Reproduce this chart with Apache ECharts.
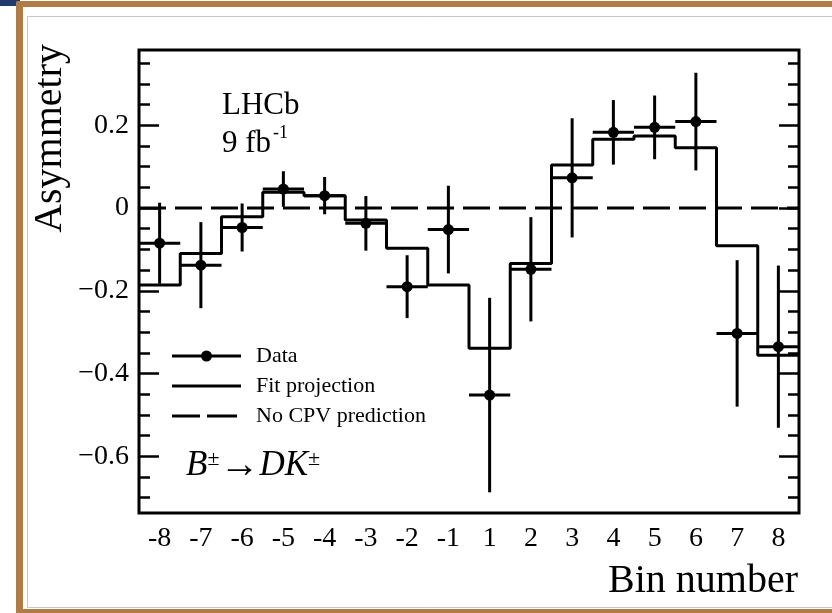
<!DOCTYPE html>
<html>
<head>
<meta charset="utf-8">
<script src="https://cdn.jsdelivr.net/npm/echarts@6/dist/echarts.min.js"></script>
<style>
html, body { margin: 0; padding: 0; background: #fff; }
#chart { width: 832px; height: 613px; }
</style>
</head>
<body>
<div id="chart"></div>
<script>
// bins, asymmetry values
var binLabels = ['-8', '-7', '-6', '-5', '-4', '-3', '-2', '-1', '1', '2', '3', '4', '5', '6', '7', '8'];
var asymmetry = [-0.085, -0.138, -0.047, 0.046, 0.030, -0.037, -0.190, -0.052,
                 -0.452, -0.148, 0.073, 0.183, 0.195, 0.209, -0.303, -0.335];
var asymErr = [0.098, 0.104, 0.058, 0.043, 0.045, 0.066, 0.076, 0.106,
               0.235, 0.126, 0.144, 0.078, 0.077, 0.118, 0.177, 0.196];
var fitProjection = [-0.186, -0.110, -0.021, 0.038, 0.030, -0.029, -0.097, -0.186,
                     -0.339, -0.134, 0.104, 0.166, 0.174, 0.146, -0.091, -0.356];
var noCpvValue = 0;
var yMajorTicks = [-0.6, -0.4, -0.2, 0, 0.2];
var yMinorTicks = [-0.7, -0.65, -0.6, -0.55, -0.5, -0.45, -0.4, -0.35, -0.3, -0.25, -0.2, -0.15,
                   -0.1, -0.05, 0, 0.05, 0.1, 0.15, 0.2, 0.25, 0.3, 0.35];
var yMin = -0.737, yMax = 0.382;

var SERIF = '"Liberation Serif", "Times New Roman", serif';

var chart = echarts.init(document.getElementById('chart'));

// step histogram points for the fit
var fitSteps = [];
fitProjection.forEach(function (v, i) {
    fitSteps.push([i, v], [i + 1, v]);
});

var dataPoints = asymmetry.map(function (v, i) {
    return [i + 0.5, v, asymErr[i]];
});

function renderData(params, api) {
    var x = api.value(0), y = api.value(1), e = api.value(2);
    var c = api.coord([x, y]);
    var top = api.coord([x, y + e]);
    var bot = api.coord([x, y - e]);
    var l = api.coord([x - 0.5, y]);
    var r = api.coord([x + 0.5, y]);
    var st = { stroke: '#000', lineWidth: 3 };
    return {
        type: 'group',
        children: [
            { type: 'line', shape: { x1: c[0], y1: top[1], x2: c[0], y2: bot[1] }, style: st },
            { type: 'line', shape: { x1: l[0], y1: c[1], x2: r[0], y2: c[1] }, style: st },
            { type: 'circle', shape: { cx: c[0], cy: c[1], r: 5.5 }, style: { fill: '#000' } }
        ]
    };
}

function yLabel(v) {
    return v < 0 ? '\u2212' + Math.abs(v) : String(v);
}

function catAxis(pos, labels) {
    return {
        type: 'category',
        data: binLabels,
        position: pos,
        axisLine: { show: false },
        axisTick: { inside: true, length: 14, interval: 0, lineStyle: { color: '#000', width: 2.5 } },
        axisLabel: { show: labels, interval: 0, margin: 12, color: '#000', fontFamily: SERIF, fontSize: 28 },
        splitLine: { show: false }
    };
}

function valAxis(pos, ticks, len, labels) {
    return {
        type: 'value',
        position: pos,
        min: yMin,
        max: yMax,
        axisLine: { show: false },
        splitLine: { show: false },
        axisTick: { inside: true, length: len, customValues: ticks, lineStyle: { color: '#000', width: 2.5 } },
        axisLabel: {
            show: labels, customValues: ticks, margin: 10, formatter: yLabel,
            color: '#000', fontFamily: SERIF, fontSize: 28
        }
    };
}

var legendText = { color: '#000', fontFamily: SERIF, fontSize: 22, lineHeight: 24, padding: [0, 0, 0, 10] };

var option = {
    animation: false,
    backgroundColor: '#fff',
    grid: { left: 139, top: 50, width: 660, height: 463, show: true, borderColor: '#000', borderWidth: 3 },
    xAxis: [
        catAxis('bottom', true),
        catAxis('top', false),
        { type: 'value', min: 0, max: 16, show: false }
    ],
    yAxis: [
        valAxis('left', yMajorTicks, 20, true),
        valAxis('left', yMinorTicks, 11, false),
        valAxis('right', yMajorTicks, 20, false),
        valAxis('right', yMinorTicks, 11, false)
    ],
    legend: [
        {
            left: 172, top: 344, padding: 0, itemWidth: 69, itemHeight: 11,
            itemStyle: { borderWidth: 0 }, textStyle: legendText, selectedMode: false,
            data: [{ name: 'Data', icon: 'path://M0 5.5H69V8.5H0Z M29 7A5.5 5.5 0 1 1 40 7A5.5 5.5 0 1 1 29 7Z' }]
        },
        {
            left: 172, top: 374, padding: 0, itemWidth: 69, itemHeight: 3,
            itemStyle: { borderWidth: 0 }, textStyle: legendText, selectedMode: false,
            data: [{ name: 'Fit projection', icon: 'path://M0 0H69V3H0Z' }]
        },
        {
            left: 172, top: 404, padding: 0, itemWidth: 65, itemHeight: 3,
            itemStyle: { borderWidth: 0 },
            textStyle: Object.assign({}, legendText, { padding: [0, 0, 0, 14] }), selectedMode: false,
            data: [{ name: 'No CPV prediction', icon: 'path://M0 0H28V3H0Z M35 0H65V3H35Z' }]
        }
    ],
    series: [
        {
            name: 'No CPV prediction',
            type: 'line',
            xAxisIndex: 2,
            yAxisIndex: 0,
            data: [[0, noCpvValue], [16, noCpvValue]],
            symbol: 'none',
            color: '#000',
            lineStyle: { color: '#000', width: 3, type: [27, 9] },
            z: 2
        },
        {
            name: 'Fit projection',
            type: 'line',
            xAxisIndex: 2,
            yAxisIndex: 0,
            data: fitSteps,
            symbol: 'none',
            color: '#000',
            lineStyle: { color: '#000', width: 3 },
            z: 3
        },
        {
            name: 'Data',
            type: 'custom',
            xAxisIndex: 2,
            yAxisIndex: 0,
            data: dataPoints,
            renderItem: renderData,
            itemStyle: { color: '#000' },
            z: 4
        }
    ],
    graphic: [
        // page frame
        { type: 'rect', shape: { x: 0, y: 0, width: 20, height: 6 }, style: { fill: '#1f3a6b' }, silent: true },
        { type: 'rect', shape: { x: 16, y: 1, width: 820, height: 6, r: 2 }, style: { fill: '#b07c46' }, silent: true },
        { type: 'rect', shape: { x: 16, y: 1, width: 7, height: 612, r: 2 }, style: { fill: '#b07c46' }, silent: true },
        { type: 'rect', shape: { x: 16, y: 609, width: 820, height: 4 }, style: { fill: '#b07c46' }, silent: true },
        { type: 'line', shape: { x1: 27.5, y1: 16.5, x2: 832, y2: 16.5 }, style: { stroke: '#c8c8c8', lineWidth: 1 }, silent: true },
        { type: 'line', shape: { x1: 27.5, y1: 16.5, x2: 27.5, y2: 607.5 }, style: { stroke: '#c8c8c8', lineWidth: 1 }, silent: true },
        { type: 'line', shape: { x1: 27.5, y1: 607.5, x2: 832, y2: 607.5 }, style: { stroke: '#c8c8c8', lineWidth: 1 }, silent: true },
        // texts
        {
            type: 'text', x: 222, y: 106,
            style: { text: 'LHCb', fill: '#000', font: '31px ' + SERIF, textAlign: 'left', textVerticalAlign: 'middle', align: 'left', verticalAlign: 'middle' }
        },
        {
            type: 'text', x: 222, y: 144,
            style: { text: '9 fb', fill: '#000', font: '31px ' + SERIF, textAlign: 'left', textVerticalAlign: 'middle', align: 'left', verticalAlign: 'middle' }
        },
        {
            type: 'text', x: 273, y: 133,
            style: { text: '-1', fill: '#000', font: '18px ' + SERIF, textAlign: 'left', textVerticalAlign: 'middle', align: 'left', verticalAlign: 'middle' }
        },
        {
            type: 'text', x: 186, y: 466,
            style: {
                text: '{it|B}{sup|\u00b1}{ar|\u2192}{it|DK}{sup|\u00b1}',
                fill: '#000',
                textAlign: 'left', textVerticalAlign: 'middle', align: 'left', verticalAlign: 'middle',
                rich: {
                    it: { fontFamily: SERIF, fontStyle: 'italic', fontSize: 35, lineHeight: 36, fill: '#000' },
                    sup: { fontFamily: SERIF, fontSize: 22, verticalAlign: 'top', lineHeight: 22, fill: '#000' },
                    ar: { fontFamily: SERIF, fontSize: 40, lineHeight: 36, fill: '#000' }
                }
            }
        },
        {
            type: 'text', x: 50, y: 44, rotation: Math.PI / 2,
            style: { text: 'Asymmetry', fill: '#000', font: '40px ' + SERIF, textAlign: 'right', textVerticalAlign: 'middle', align: 'right', verticalAlign: 'middle' }
        },
        {
            type: 'text', x: 798, y: 581,
            style: { text: 'Bin number', fill: '#000', font: '40px ' + SERIF, textAlign: 'right', textVerticalAlign: 'middle', align: 'right', verticalAlign: 'middle' }
        }
    ]
};

chart.setOption(option);
</script>
</body>
</html>
